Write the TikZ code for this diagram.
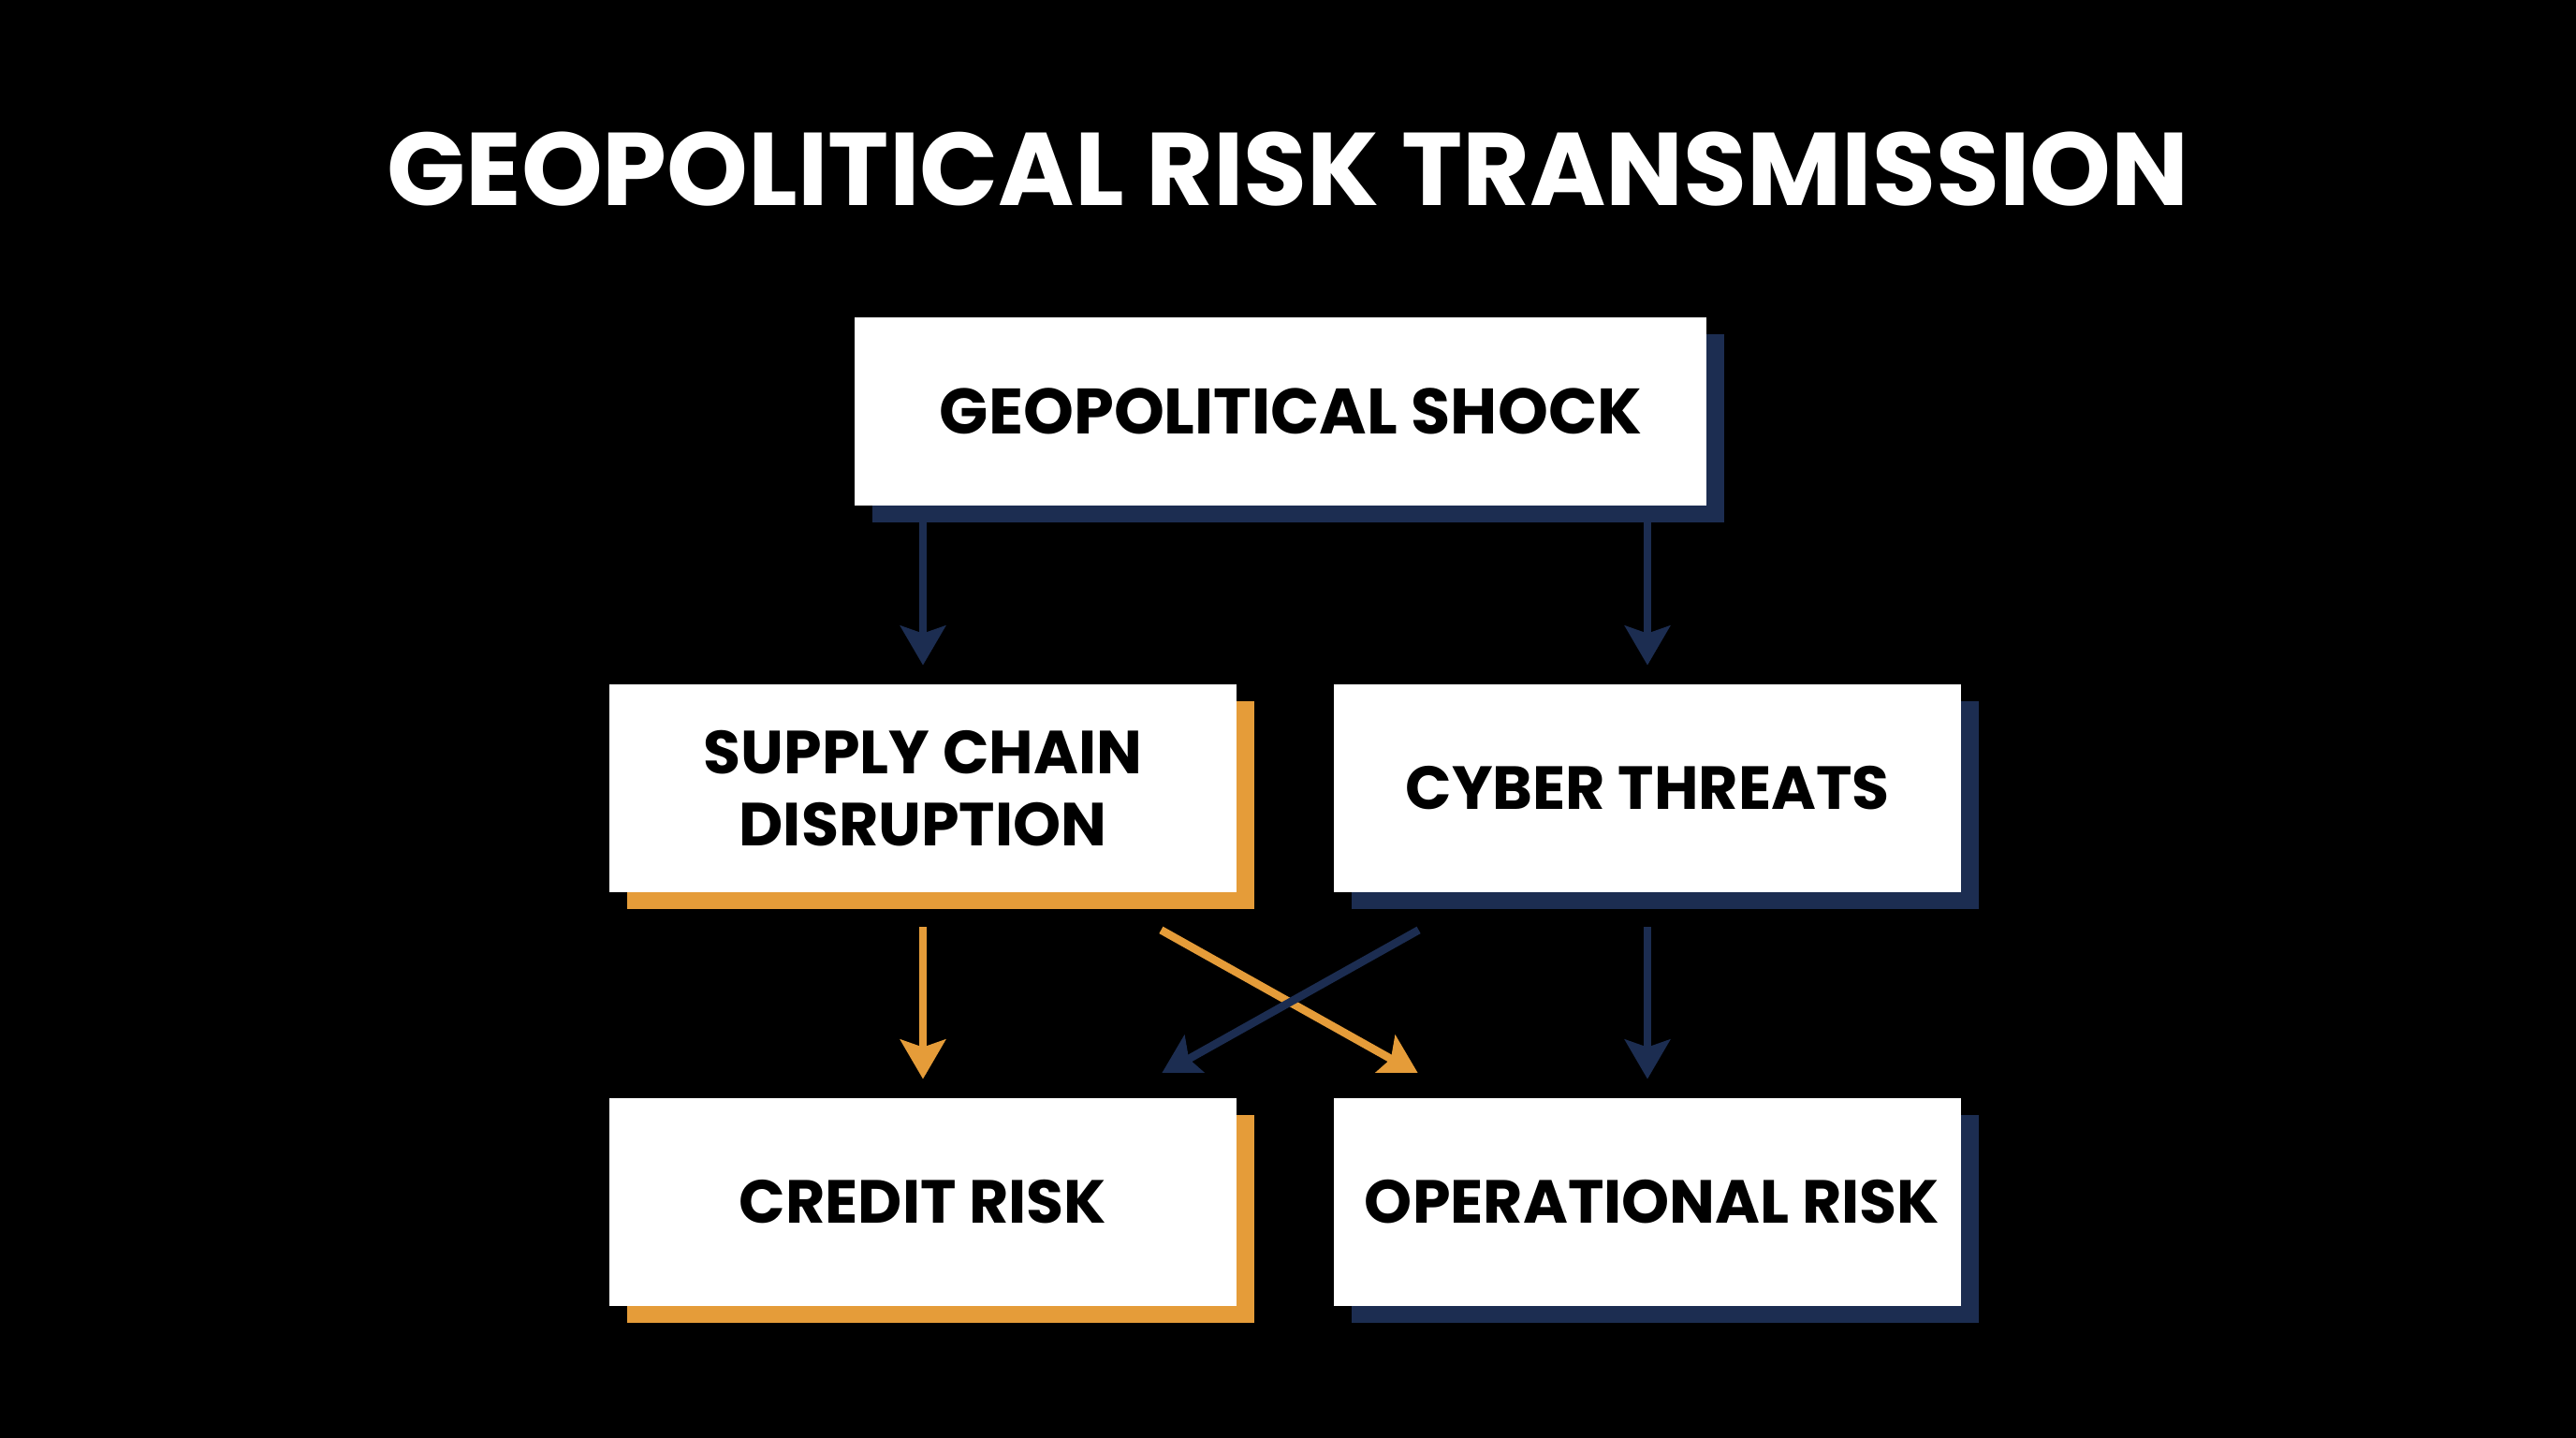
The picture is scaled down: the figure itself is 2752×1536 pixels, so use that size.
\documentclass[tikz,border=0pt]{standalone}
\usepackage{fontspec}
\setmainfont{Poppins}
\usetikzlibrary{arrows.meta,shadows,calc}
\definecolor{sorange}{HTML}{E59C39}
\definecolor{snavy}{HTML}{1C2D51}
\begin{document}
\begin{tikzpicture}[x=0.5pt,y=-0.5pt,
 box/.style={fill=white, inner sep=0pt, minimum width=335pt, minimum height=111pt, align=center, text=black, font=\bfseries\fontsize{32.5}{38.5}\selectfont},
 oshadow/.style={drop shadow={shadow xshift=9.5pt,shadow yshift=-9pt,fill=sorange,opacity=1}},
 nshadow/.style={drop shadow={shadow xshift=9.5pt,shadow yshift=-9pt,fill=snavy,opacity=1}},
 arr/.style={line width=4.25pt, -{Stealth[length=21pt,width=24pt,inset=4pt]}},
]
\fill[black] (0,0) rectangle (2752,1536);
\node[anchor=base, text=white, inner sep=0pt, font=\bfseries\fontsize{55.2}{60}\selectfont] (title) at (1376,219) {GEOPOLITICAL RISK TRANSMISSION};

\node[box, nshadow, minimum width=455pt, minimum height=100.5pt, font=\bfseries\fontsize{34.3}{40}\selectfont] (shock) at (1368,439.5) {\hspace*{11pt}GEOPOLITICAL SHOCK};
\node[box, oshadow] (supply) at (986,842) {SUPPLY CHAIN\\DISRUPTION};
\node[box, nshadow] (cyber) at (1760,842) {CYBER THREATS};
\node[box, oshadow] (credit) at (986,1284) {CREDIT RISK};
\node[box, nshadow] (oper) at (1760,1284) {\hspace*{5pt}OPERATIONAL RISK};

\draw[arr, snavy, shorten <=9pt, shorten >=10pt] (shock.south -| supply.north) -- (supply.north);
\draw[arr, snavy, shorten <=9pt, shorten >=10pt] (shock.south -| cyber.north) -- (cyber.north);
\draw[arr, sorange, shorten <=18.5pt, shorten >=10pt] (supply.south) -- (credit.north);
\draw[arr, snavy, shorten <=18.5pt, shorten >=10pt] (cyber.south) -- (oper.north);

\coordinate (oS) at ($(supply.south east)+(-81,40)$);
\coordinate (oE) at ($(oper.north west)+(91,-25)$);
\coordinate (nS) at ($(cyber.south west)+(91,40)$);
\coordinate (nE) at ($(credit.north east)+(-81,-25)$);
\begin{scope}
\clip (0,0) rectangle (2752,1145);
\draw[arr, sorange] (oS) -- (oE);
\draw[arr, snavy] (nS) -- (nE);
\end{scope}
\end{tikzpicture}
\end{document}
